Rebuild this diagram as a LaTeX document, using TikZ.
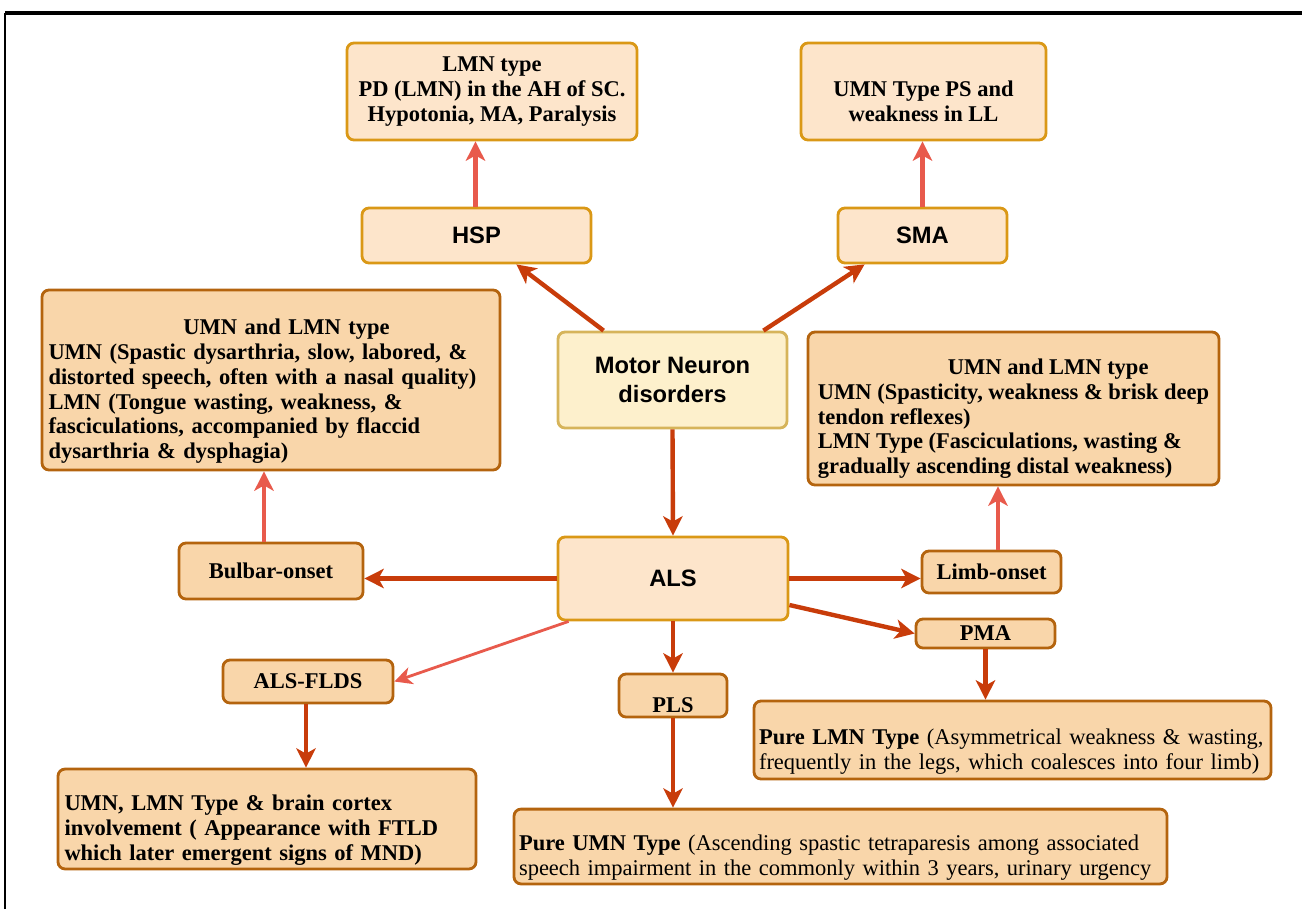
\documentclass[tikz,border=0pt]{standalone}
\usepackage{fontspec}
\setmainfont{Liberation Serif}
\newfontfamily\headfont{Liberation Sans}
\usetikzlibrary{arrows.meta,calc}

\definecolor{peachfill}{RGB}{253,229,203}
\definecolor{golddraw}{RGB}{218,152,22}
\definecolor{creamfill}{RGB}{253,240,204}
\definecolor{creamdraw}{RGB}{214,180,90}
\definecolor{tanfill}{RGB}{249,214,170}
\definecolor{tandraw}{RGB}{180,100,14}
\definecolor{arrowdark}{RGB}{200,60,10}
\definecolor{arrowlight}{RGB}{232,90,76}

\newcommand{\lowstart}[1]{\rule{0pt}{#1}}

\begin{document}
\begin{tikzpicture}[
  box/.style={rectangle, draw, line width=1.6pt, rounded corners=4pt,
              inner sep=2pt, align=center,
              font=\fontsize{12.8}{14.2}\selectfont\bfseries},
  peachbox/.style={box, fill=peachfill, draw=golddraw},
  headbox/.style={peachbox, font=\fontsize{13.5}{16}\selectfont\headfont\bfseries},
  creambox/.style={box, fill=creamfill, draw=creamdraw,
                   font=\fontsize{13.5}{16}\selectfont\headfont\bfseries},
  tanbox/.style={box, fill=tanfill, draw=tandraw},
  notebox/.style={tanbox, align=left},
  arrow/.style={-{Stealth[length=11pt,width=11pt,inset=3pt]}, line width=2.5pt, arrowdark},
  lightarrow/.style={arrow, arrowlight},
  thinarrow/.style={-{Stealth[length=10pt,width=10pt,inset=3pt]}, line width=1.6pt, arrowlight}
]
  \useasboundingbox (0,0) rectangle (26.04,-18.18);
  \draw[line width=0.6pt] (0.1,-18.18) -- (0.1,-0.26);
  \draw[line width=1.8pt] (0.1,-0.26) -- (26.04,-0.26);

  \node[peachbox, minimum width=5.8cm, minimum height=1.94cm] (lmnt) at (9.84,-1.83)
    {LMN type\\PD (LMN) in the AH of SC.\\Hypotonia, MA, Paralysis};
  \node[peachbox, minimum width=4.9cm, minimum height=1.94cm] (umnt) at (18.47,-1.83)
    {\lowstart{0.72cm}UMN Type PS and\\weakness in LL};

  \node[headbox, minimum width=4.58cm, minimum height=1.1cm] (hsp) at (9.53,-4.71) {HSP};
  \node[headbox, minimum width=3.38cm, minimum height=1.1cm] (sma) at (18.45,-4.71) {SMA};

  \node[notebox, minimum width=9.16cm, minimum height=3.6cm, text width=8.9cm] (bulbtxt) at (5.42,-7.6)
    {\lowstart{0.76cm}\hspace*{2.7cm}UMN and LMN type\\
     UMN (Spastic dysarthria, slow, labored, \&\\
     distorted speech, often with a nasal quality)\\
     LMN (Tongue wasting, weakness, \&\\
     fasciculations, accompanied by flaccid\\
     dysarthria \& dysphagia)};
  \node[creambox, minimum width=4.58cm, minimum height=1.92cm] (mnd) at (13.45,-7.6)
    {Motor Neuron\\disorders};
  \node[notebox, minimum width=8.22cm, minimum height=3.06cm] (limbtxt) at (20.27,-8.17)
    {\lowstart{0.72cm}\hspace*{2.6cm}UMN and LMN type\\
     UMN (Spasticity, weakness \& brisk deep\\
     tendon reflexes)\\
     LMN Type (Fasciculations, wasting \&\\
     gradually ascending distal weakness)};

  \node[tanbox, minimum width=3.68cm, minimum height=1.12cm] (bulbar) at (5.42,-11.42) {Bulbar-onset};
  \node[headbox, minimum width=4.6cm, minimum height=1.66cm] (als) at (13.46,-11.57) {ALS};
  \node[tanbox, minimum width=2.78cm, minimum height=0.84cm] (limb) at (19.83,-11.44) {Limb-onset};
  \node[tanbox, minimum width=2.78cm, minimum height=0.58cm, inner sep=0pt] (pma) at (19.71,-12.67) {PMA};
  \node[tanbox, minimum width=2.16cm, minimum height=0.86cm, inner sep=0pt] (pls) at (13.46,-13.91)
    {\lowstart{0.7cm}PLS};
  \node[tanbox, minimum width=3.4cm, minimum height=0.86cm] (flds) at (6.16,-13.63) {ALS-FLDS};

  \node[notebox, minimum width=10.34cm, minimum height=1.56cm, text width=10.14cm] (pmatxt) at (20.25,-14.8)
    {\lowstart{0.76cm}Pure LMN Type \mdseries(Asymmetrical weakness \& wasting,\\
     \mdseries frequently in the legs, which coalesces into four limb)};
  \node[notebox, minimum width=8.36cm, minimum height=1.96cm, text width=8.1cm] (fldstxt) at (5.34,-16.38)
    {\lowstart{0.76cm}UMN, LMN Type \& brain cortex\\
     involvement ( Appearance with FTLD\\
     which later emergent signs of MND)};
  \node[notebox, minimum width=13.06cm, minimum height=1.42cm, text width=12.86cm] (plstxt) at (16.81,-16.93)
    {\lowstart{0.76cm}Pure UMN Type \mdseries(Ascending spastic tetraparesis among associated\\
     \mdseries speech impairment in the commonly within 3 years, urinary urgency};

  \draw[lightarrow] ([xshift=-0.02cm]hsp.north) -- ([xshift=-0.02cm]hsp.north |- lmnt.south);
  \draw[lightarrow] (sma.north) -- (sma.north |- umnt.south);
  \draw[arrow] ([xshift=0.94cm]mnd.north west) -- ([xshift=-1.52cm]hsp.south east);
  \draw[arrow] ([xshift=-0.5cm]mnd.north east) -- ([xshift=0.56cm]sma.south west);
  \draw[arrow] (mnd.south) -- (als.north);
  \draw[arrow] (als.west) -- (als.west -| bulbar.east);
  \draw[lightarrow] ([xshift=-0.14cm]bulbar.north) -- ([xshift=-0.14cm]bulbar.north |- bulbtxt.south);
  \draw[arrow] (als.east) -- (als.east -| limb.west);
  \draw[lightarrow] ([xshift=0.13cm]limb.north) -- ([xshift=0.13cm]limb.north |- limbtxt.south);
  \draw[arrow] ([yshift=-0.53cm]als.east) -- (pma.west);
  \draw[arrow] (als.south) -- (pls.north);
  \draw[thinarrow] ([xshift=0.24cm]als.south west) -- (flds.east);
  \draw[arrow] ([xshift=-0.04cm]flds.south) -- ([xshift=-0.04cm]flds.south |- fldstxt.north);
  \draw[arrow] (pls.south) -- (pls.south |- plstxt.north);
  \draw[arrow] (pma.south) -- (pma.south |- pmatxt.north);

\end{tikzpicture}
\end{document}
